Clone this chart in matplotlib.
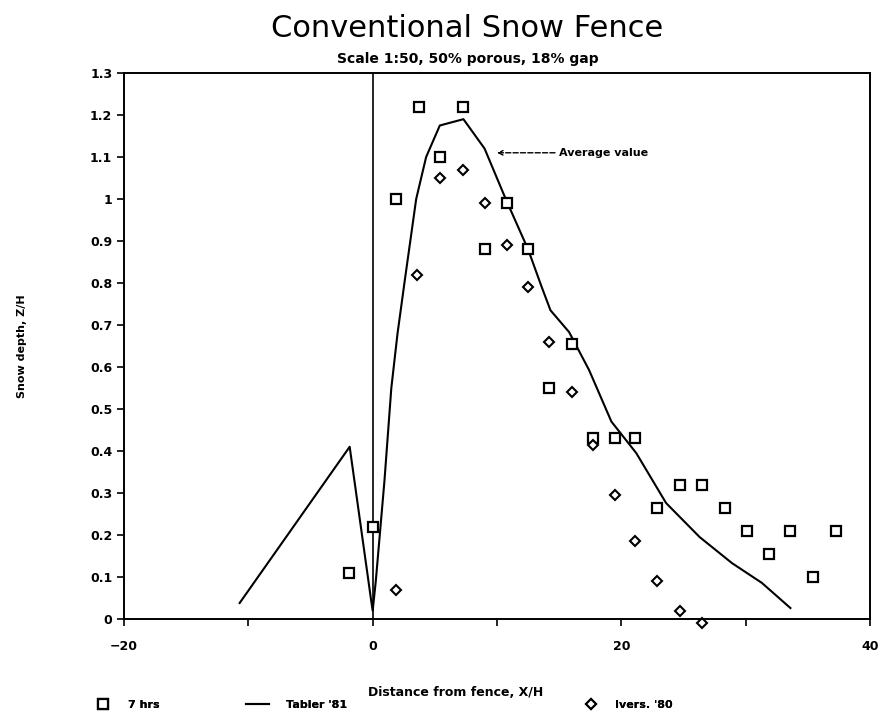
"""Conventional snow fence: snow depth profile vs distance from fence."""

import matplotlib

matplotlib.use("Agg")
import matplotlib.pyplot as plt

# 7 hrs (open squares)
hrs7_x = [-1.9, 0.0, 1.9, 3.7, 5.4, 7.3, 9.0, 10.8, 12.5, 14.2, 16.0, 17.7,
          19.5, 21.1, 22.9, 24.7, 26.5, 28.3, 30.1, 31.9, 33.6, 35.4, 37.3]
hrs7_y = [0.11, 0.22, 1.0, 1.22, 1.10, 1.22, 0.88, 0.99, 0.88, 0.55, 0.655,
          0.43, 0.43, 0.43, 0.265, 0.32, 0.32, 0.265, 0.21, 0.155, 0.21,
          0.10, 0.21]

# Ivers. '80 (diamonds)
ivers_x = [1.85, 3.6, 5.4, 7.3, 9.0, 10.8, 12.5, 14.2, 16.0, 17.7, 19.5,
           21.1, 22.9, 24.7, 26.5]
ivers_y = [0.07, 0.82, 1.05, 1.07, 0.99, 0.89, 0.79, 0.66, 0.54, 0.415,
           0.295, 0.185, 0.09, 0.02, -0.01]

# Tabler '81 (solid line)
tabler_x = [-10.7, -1.85, -0.15, 0.0, 0.25, 0.95, 1.5, 2.0, 2.6, 3.5, 4.3,
            5.4, 7.3, 9.0, 10.7, 12.5, 13.6, 14.3, 15.8, 17.4, 19.2, 21.2,
            23.6, 26.3, 28.9, 31.3, 33.6]
tabler_y = [0.038, 0.41, 0.05, 0.02, 0.09, 0.33, 0.55, 0.68, 0.81, 1.0, 1.1,
            1.175, 1.19, 1.12, 1.0, 0.88, 0.79, 0.735, 0.683, 0.593, 0.47,
            0.395, 0.276, 0.195, 0.133, 0.086, 0.026]

y_ticks = [0, 0.1, 0.2, 0.3, 0.4, 0.5, 0.6, 0.7, 0.8, 0.9, 1, 1.1, 1.2, 1.3]
y_labels = ["0", "0.1", "0.2", "0.3", "0.4", "0.5", "0.6", "0.7", "0.8",
            "0.9", "1", "1.1", "1.2", "1.3"]
x_ticks = [-20, 0, 20, 40]

fig = plt.figure(figsize=(8.82, 7.19), dpi=100)
ax = fig.add_axes([0.1406, 0.1391, 0.8458, 0.7594])

# fence
ax.axvline(0, color="black", lw=1.2)

(h_line,) = ax.plot(tabler_x, tabler_y, color="black", lw=1.5)
(h_sq,) = ax.plot(hrs7_x, hrs7_y, ls="none", marker="s", markersize=7.5,
                  markerfacecolor="white", markeredgecolor="black",
                  markeredgewidth=1.6, clip_on=False)
(h_di,) = ax.plot(ivers_x, ivers_y, ls="none", marker="D", markersize=5.5,
                  markerfacecolor="white", markeredgecolor="black",
                  markeredgewidth=1.5, clip_on=False)

ax.annotate("Average value", xy=(10.0, 1.11), xytext=(15.0, 1.11),
            fontsize=8, fontweight="bold", va="center",
            arrowprops=dict(arrowstyle="->", linestyle="--", color="black",
                            lw=1.0, shrinkA=1, shrinkB=0))

ax.set_xlim(-20, 40)
ax.set_ylim(0, 1.3)
ax.set_xticks(x_ticks)
ax.set_xticks([-10, 10, 30], minor=True)
ax.set_yticks(y_ticks)
ax.set_yticklabels(y_labels)
ax.tick_params(axis="both", which="both", direction="out", length=5,
               width=1.2, labelsize=9)
for lbl in ax.get_xticklabels() + ax.get_yticklabels():
    lbl.set_fontweight("bold")
ax.tick_params(axis="x", pad=10)
for sp in ax.spines.values():
    sp.set_linewidth(1.4)

ax.set_xlabel("Distance from fence, X/H", fontsize=9, fontweight="bold")
ax.xaxis.set_label_coords(0.445, -0.122)
ax.set_ylabel("Snow depth, Z/H", fontsize=8, fontweight="bold", labelpad=45)

fig.text(0.53, 0.961, "Conventional Snow Fence", ha="center", va="center",
         fontsize=22)
fig.text(0.53, 0.918, "Scale 1:50, 50% porous, 18% gap", ha="center",
         va="center", fontsize=10, fontweight="bold")

# legend row under the axis label
leg_y = 1 - 705 / 719
for h, lab, x0, pad in [(h_sq, "7 hrs", 0.093, 1.2),
                        (h_line, "Tabler '81", 0.268, 1.6),
                        (h_di, "Ivers. '80", 0.646, 1.2)]:
    leg = fig.legend(handles=[h], labels=[lab], loc="center left",
                     bbox_to_anchor=(x0, leg_y), frameon=False,
                     handlelength=2.0, handletextpad=pad,
                     prop={"size": 8, "weight": "bold"})
    fig.add_artist(leg)

fig.savefig("out.png", dpi=100)
